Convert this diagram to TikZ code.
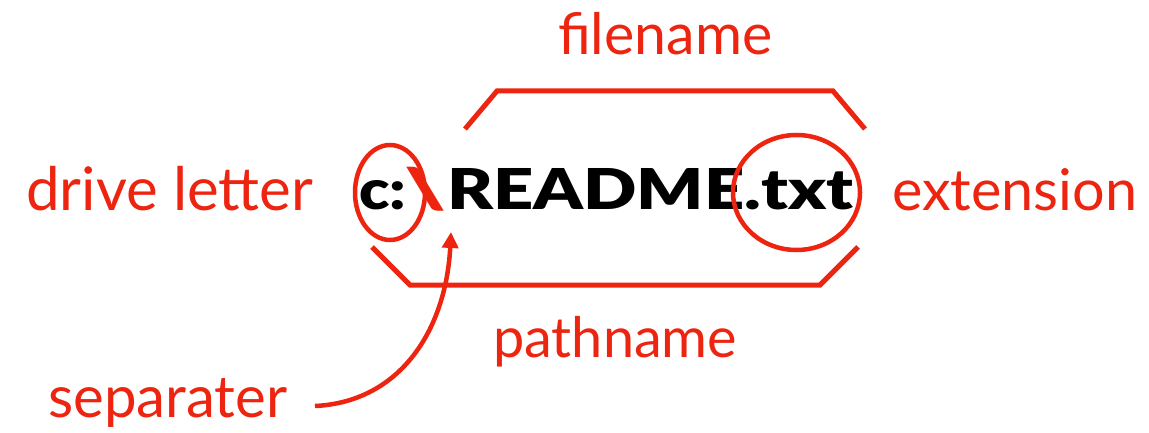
\documentclass[tikz,border=0pt]{standalone}
\usepackage{fontspec}
\setmainfont{Lato}
\newfontfamily\heavy{Lato Black}
\usepackage{graphicx}
\usetikzlibrary{arrows.meta}
\definecolor{mark}{RGB}{236,36,16}
\tikzset{
  lbl/.style={anchor=base west, inner sep=0pt, text=mark},
  word/.style={anchor=base west, inner sep=0pt},
  bracket/.style={draw=mark, line width=5pt, line cap=butt, line join=miter},
  ring/.style={draw=mark, line width=4.5pt},
  pointer/.style={draw=mark, line width=4.5pt, -{Triangle[length=16pt,width=16pt]}}
}
\newcommand{\fitw}[2]{\resizebox{#1}{!}{#2}}
\begin{document}
\begin{tikzpicture}[x=1pt,y=-1pt]
  \useasboundingbox (0,0) rectangle (1149,433);

  % path string: drive, separator, file
  \node[word] (drv) at (359,210) {\resizebox{47pt}{29pt}{\heavy c:}};
  \node[anchor=north west, inner sep=0pt, text=mark] (bs) at (404,167)
    {\resizebox*{42pt}{44pt}{\heavy\textbackslash}};
  \node[word] (file) at (447,210) {\resizebox{406pt}{41pt}{\heavy README.txt}};

  % labels
  \node[lbl] (fname) at (558,55)  {\fitw{214pt}{filename}};
  \node[lbl] (drive) at (26,211)  {\fitw{287pt}{drive letter}};
  \node[lbl] (ext)   at (892,210) {\fitw{245pt}{extension}};
  \node[lbl] (pname) at (493,357) {\fitw{244pt}{pathname}};
  \node[lbl] (sep)   at (48,417)  {\fitw{239pt}{separater}};

  % brackets above and below
  \coordinate (t1) at (465,129);
  \coordinate (t2) at (497,91);
  \coordinate (t3) at (833,91);
  \coordinate (t4) at (865,129);
  \draw[bracket] (t1) -- (t2) -- (t3) -- (t4);
  \coordinate (b1) at (372,247);
  \coordinate (b2) at (410,285);
  \coordinate (b3) at (820,285);
  \coordinate (b4) at (858,247);
  \draw[bracket] (b1) -- (b2) -- (b3) -- (b4);

  % rings
  \coordinate (cdrive) at (390,192.5);
  \coordinate (cext) at (796.5,192.5);
  \draw[ring] (cdrive) ellipse [x radius=35, y radius=47.5];
  \draw[ring] (cext) ellipse [x radius=63.5, y radius=57.5];

  % arrow to the separator
  \coordinate (s0) at (315,406);
  \coordinate (s1) at (451,232);
  \draw[pointer] (s0) .. controls (400,402) and (446,330) .. (s1);
\end{tikzpicture}
\end{document}
